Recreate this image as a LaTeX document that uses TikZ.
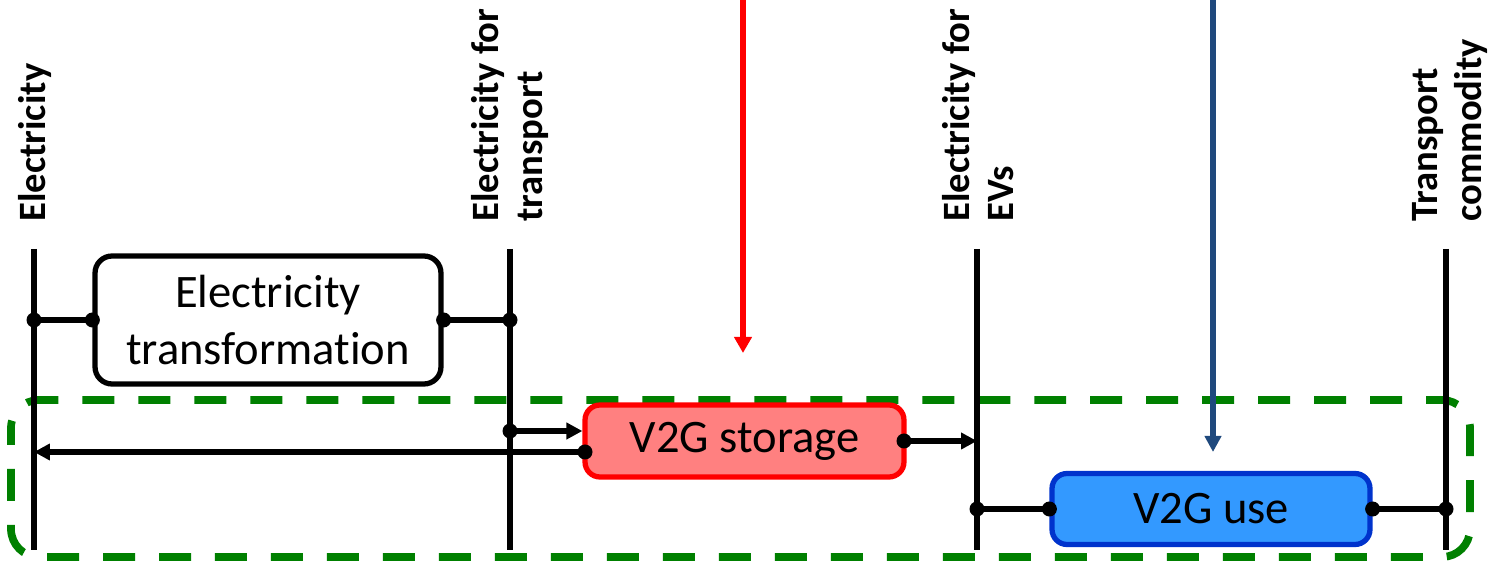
\documentclass[tikz,border=0pt]{standalone}
\usepackage{fontspec}
\setmainfont{Carlito}[Ligatures=NoCommon]
\usetikzlibrary{arrows.meta}
\definecolor{storfill}{RGB}{255,128,128}
\definecolor{storline}{RGB}{255,0,0}
\definecolor{usefill}{RGB}{51,153,255}
\definecolor{useline}{RGB}{0,51,204}
\definecolor{grn}{RGB}{0,128,0}
\definecolor{darkblue}{RGB}{31,73,125}
\tikzset{
  bus/.style={line width=3pt, black},
  conn/.style={line width=3pt, black},
  arr/.style={conn, -{Triangle[length=0.32cm,width=0.32cm]}},
  dot/.style={circle, fill=black, inner sep=0pt, minimum size=0.3cm},
  lab/.style={rotate=90, anchor=west, align=left, inner sep=0pt,
    font=\bfseries\fontsize{22}{25.5}\selectfont},
  proc/.style={rounded corners=0.34cm, line width=3pt, align=center,
    inner sep=0pt, font=\fontsize{26.5}{32.5}\selectfont},
}
\begin{document}
\begin{tikzpicture}[x=0.02cm,y=-0.02cm]
\useasboundingbox (0,0) rectangle (1499,563);

% group box
\draw[grn, line width=4.4pt, dash pattern=on 0.64cm off 0.48cm, dash phase=0.3cm,
  rounded corners=0.56cm] (11,400) rectangle (1470,557);

% buses
\coordinate (b1t) at (34,249); \coordinate (b1b) at (34,550);
\coordinate (b2t) at (510,249); \coordinate (b2b) at (510,550);
\coordinate (b3t) at (977,249); \coordinate (b3b) at (977,550);
\coordinate (b4t) at (1446,249); \coordinate (b4b) at (1446,550);
\draw[bus] (b1t) -- (b1b);
\draw[bus] (b2t) -- (b2b);
\draw[bus] (b3t) -- (b3b);
\draw[bus] (b4t) -- (b4b);

% labels
\node[lab] (l1) at (35,222) {Electricity};
\node[lab] (l2) at (510,222) {Electricity for\\transport};
\node[lab] (l3) at (978,222) {Electricity for\\EVs};
\node[lab] (l4) at (1450,222) {Transport\\commodity};

% processes
\node[proc, draw=black, fill=white, minimum width=6.92cm, minimum height=2.56cm]
  (et) at (268,320) {Electricity\\transformation};
\node[proc, rounded corners=0.3cm, draw=storline, fill=storfill, minimum width=6.38cm, minimum height=1.44cm]
  (st) at (744.5,441) {V2G storage};
\node[proc, rounded corners=0.3cm, draw=useline, fill=usefill, minimum width=6.36cm, minimum height=1.42cm]
  (use) at (1211,509) {V2G use};

% electricity transformation links
\coordinate (j1) at (34,320);
\coordinate (j2) at (510,320);
\draw[conn] (j1) -- (et.west);
\draw[conn] (et.east) -- (j2);
\node[dot] at (j1) {};
\node[dot] at (et.west) {};
\node[dot] at (et.east) {};
\node[dot] at (j2) {};

% storage links
\coordinate (j3) at (510,431);
\coordinate (s1) at (585,452);
\coordinate (e1) at (34,452);
\coordinate (s2) at (904,441);
\coordinate (e2) at (977,441);
\draw[arr] (j3) -- (st.west |- j3);
\draw[arr] (s1) -- (e1);
\draw[arr] (s2) -- (e2);
\node[dot] at (j3) {};
\node[dot] at (s1) {};
\node[dot] at (s2) {};

% use links
\coordinate (j4) at (977,509);
\coordinate (j5) at (1446,509);
\draw[conn] (j4) -- (use.west);
\draw[conn] (use.east) -- (j5);
\node[dot] at (j4) {};
\node[dot] at (use.west) {};
\node[dot] at (use.east) {};
\node[dot] at (j5) {};

% incoming arrows
\coordinate (rtop) at (743,0);
\coordinate (rtip) at (743,353);
\draw[line width=3.2pt, storline, -{Triangle[length=0.32cm,width=0.34cm]}] (rtop) -- (rtip);
\coordinate (btop) at (1213,0);
\coordinate (btip) at (1213,452);
\draw[line width=3.2pt, darkblue, -{Triangle[length=0.32cm,width=0.32cm]}] (btop) -- (btip);
\end{tikzpicture}
\end{document}
